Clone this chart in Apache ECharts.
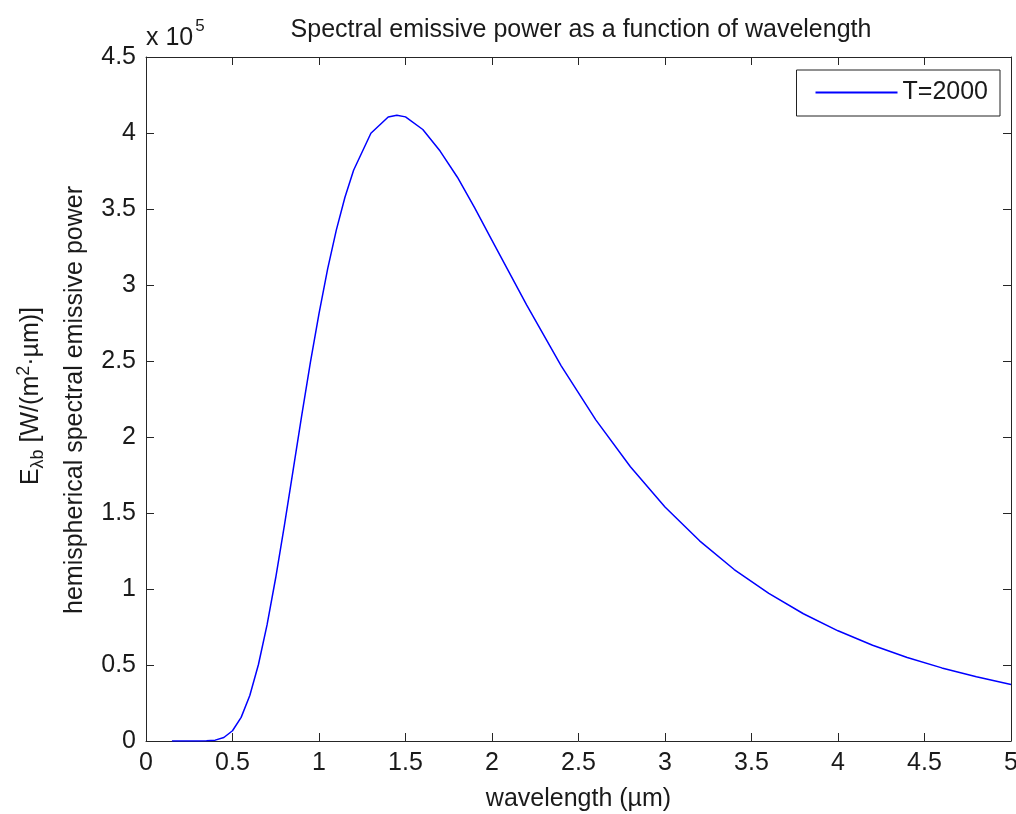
<!DOCTYPE html>
<html>
<head>
<meta charset="utf-8">
<script src="https://cdn.jsdelivr.net/npm/echarts@6/dist/echarts.min.js"></script>
<style>
html,body{margin:0;padding:0;background:#fff;}
#chart{width:1016px;height:814px;}
</style>
</head>
<body>
<div id="chart"></div>
<script>
// wavelength (µm)
var wavelength = [0.15,0.2,0.25,0.3,0.35,0.4,0.45,0.5,0.55,0.6,0.65,0.7,0.75,0.8,0.85,0.9,0.95,1.0,1.05,1.1,1.15,1.2,1.3,1.4,1.45,1.5,1.6,1.7,1.8,1.9,2.0,2.2,2.4,2.6,2.8,3.0,3.2,3.4,3.6,3.8,4.0,4.2,4.4,4.6,4.8,5.0];
// spectral emissive power W/(m^2·µm), T=2000
var power = [0,0,0,6,85,564,2313,6757,15530,29890,50320,76510,107560,141900,177850,214100,248900,281100,310600,336100,357700,375500,399800,410500,411700,410600,402300,388100,370900,350700,329400,286900,246800,211300,180400,154000,131700,112800,97070,83730,72500,63000,54940,48090,42240,37230];
var seriesName = 'T=2000';
var xTicks = {min:0, max:5, interval:0.5};
var yTicks = {min:0, max:450000, interval:50000};

var data = wavelength.map(function(w,i){return [w, power[i]];});
var font = 'Liberation Sans, Arial, Helvetica, sans-serif';
var fs = 25;
var axisColor = '#262626';
var textColor = '#1a1a1a';
var chart = echarts.init(document.getElementById('chart'));
var baseX = {
  type:'value', min:xTicks.min, max:xTicks.max, interval:xTicks.interval,
  axisLine:{show:true, onZero:false, lineStyle:{color:axisColor, width:1}},
  axisTick:{show:true, inside:true, length:8, lineStyle:{color:axisColor}},
  splitLine:{show:false}
};
var baseY = {
  type:'value', min:yTicks.min, max:yTicks.max, interval:yTicks.interval,
  axisLine:{show:true, onZero:false, lineStyle:{color:axisColor, width:1}},
  axisTick:{show:true, inside:true, length:8, lineStyle:{color:axisColor}},
  splitLine:{show:false}
};
chart.setOption({
  animation:false,
  backgroundColor:'#fff',
  title:{
    text:'Spectral emissive power as a function of wavelength',
    left:576, top:13, textAlign:'center',
    textStyle:{fontFamily:font, fontSize:fs, fontWeight:'normal', color:textColor}
  },
  grid:{left:146, right:5, top:57, bottom:73, containLabel:false, outerBoundsMode:'none'},
  legend:{
    right:16, top:70, orient:'horizontal',
    data:[{name:seriesName, icon:'rect'}],
    itemWidth:82, itemHeight:2, itemGap:10,
    padding:[10,12,11,19],
    borderColor:'#222', borderWidth:1,
    textStyle:{fontFamily:font, fontSize:fs, color:textColor}
  },
  xAxis:[
    Object.assign({}, baseX, {
      position:'bottom',
      name:'wavelength (µm)', nameLocation:'middle', nameGap:46,
      nameTextStyle:{fontFamily:font, fontSize:fs, color:textColor},
      axisLabel:{show:true, margin:10, fontFamily:font, fontSize:fs, color:textColor,
        formatter:function(v){return String(v);}}
    }),
    Object.assign({}, baseX, {position:'top', axisLabel:{show:false}})
  ],
  yAxis:[
    Object.assign({}, baseY, {
      position:'left',
      axisLabel:{show:true, margin:10, fontFamily:font, fontSize:fs, color:textColor,
        formatter:function(v){return String(Math.round(v/1e4)/10);}}
    }),
    Object.assign({}, baseY, {position:'right', axisLabel:{show:false}})
  ],
  graphic:[
    {
      type:'text', left:146, top:18,
      style:{
        text:'{a|x 10}{s|5}',
        rich:{
          a:{fontFamily:font, fontSize:fs, fill:textColor, verticalAlign:'bottom'},
          s:{fontFamily:font, fontSize:17, fill:textColor, verticalAlign:'top', padding:[0,0,16,2]}
        }
      }
    },
    {
      type:'text', x:31, y:396, rotation:Math.PI/2,
      style:{
        text:'{a|E}{sub|λb}{a| [W/(m}{sup|2}{a|·µm)]}',
        align:'center', verticalAlign:'middle',
        rich:{
          a:{fontFamily:font, fontSize:fs, fill:textColor},
          sub:{fontFamily:font, fontSize:18, fill:textColor, padding:[14,0,0,0]},
          sup:{fontFamily:font, fontSize:18, fill:textColor, padding:[0,0,14,0]}
        }
      }
    },
    {
      type:'text', x:75, y:400, rotation:Math.PI/2,
      style:{
        text:'hemispherical spectral emissive power',
        align:'center', verticalAlign:'middle',
        fontFamily:font, fontSize:fs, fill:textColor
      }
    }
  ],
  series:[{
    name:seriesName, type:'line', data:data,
    xAxisIndex:0, yAxisIndex:0,
    symbol:'none', smooth:false,
    lineStyle:{color:'#0000ff', width:1.5},
    itemStyle:{color:'#0000ff'}
  }]
});
</script>
</body>
</html>
